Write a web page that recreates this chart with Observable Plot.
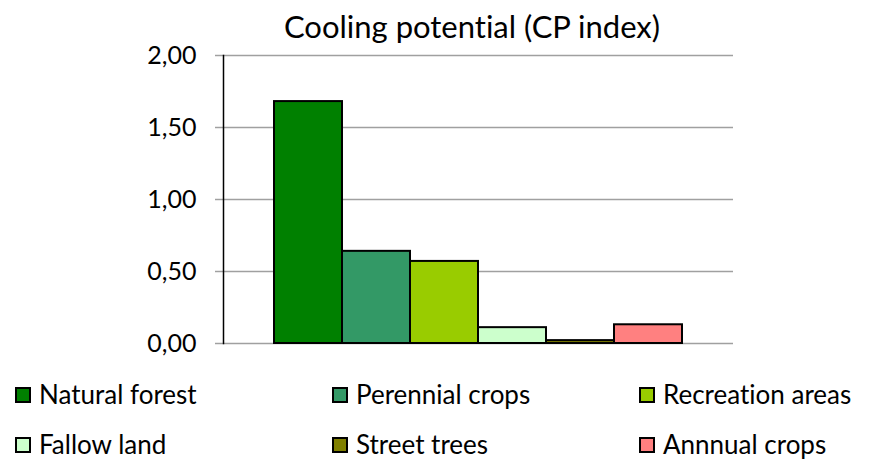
<!DOCTYPE html>
<html>
<head>
<meta charset="utf-8">
<script src="https://cdn.jsdelivr.net/npm/d3@7"></script>
<script src="https://cdn.jsdelivr.net/npm/@observablehq/plot@0.6"></script>
<style>
  html, body { margin: 0; padding: 0; background: #fff; }
  #wrap { position: relative; width: 869px; height: 461px; font-family: Lato, "Open Sans", sans-serif; color: #000; overflow: hidden; font-variant-ligatures: none; }
  #wrap svg text { font-variant-ligatures: none; }
  #title { position: absolute; left: 0; width: 944px; top: 8px; text-align: center; font-size: 31px; line-height: 36px; }
  #chart { position: absolute; left: 0; top: 0; }
  .leg { position: absolute; font-size: 26px; line-height: 26px; height: 26px; display: flex; align-items: center; white-space: nowrap; }
  .sw { width: 12px; height: 12px; border: 2px solid #000; margin-right: 8px; box-sizing: content-box; position: relative; top: 1px; }
</style>
</head>
<body>
<div id="wrap">
  <div id="title">Cooling potential (CP index)</div>
  <div id="chart"></div>
</div>
<script>
const categories = ["Natural forest", "Perennial crops", "Recreation areas", "Fallow land", "Street trees", "Annnual crops"];
const values = [1.68, 0.64, 0.57, 0.11, 0.02, 0.13];
const colors = ["#008000", "#339966", "#99CC00", "#CCFFCC", "#808000", "#FF8080"];
const yTicks = [0, 0.5, 1, 1.5, 2];

const data = categories.map((c, i) => ({category: c, value: values[i], color: colors[i]}));
const fmt = d => d.toFixed(2).replace(".", ",");

const plot = Plot.plot({
  width: 869,
  height: 361,
  marginTop: 55,
  marginBottom: 18,
  marginLeft: 223,
  marginRight: 136,
  style: {fontFamily: "Lato, 'Open Sans', sans-serif", fontSize: "25px", color: "#000", background: "transparent"},
  x: {domain: categories, padding: 0, insetLeft: 51, insetRight: 51, axis: null},
  y: {domain: [0, 2], ticks: yTicks},
  marks: [
    Plot.gridY(yTicks, {stroke: "#a0a0a0", strokeOpacity: 1, strokeWidth: 1.5}),
    Plot.axisY(yTicks, {tickSize: 8, tickPadding: 19, tickFormat: fmt, stroke: "#a0a0a0", strokeWidth: 1.5, fontSize: 25, label: null}),
    Plot.frame({anchor: "left", stroke: "#000", strokeWidth: 1.5}),
    Plot.barY(data, {x: "category", y: "value", fill: "color", stroke: "#000", strokeWidth: 2})
  ]
});
document.getElementById("chart").appendChild(plot);

// legend
const legPos = [
  [15, 394], [332, 394], [639, 394],
  [15, 444], [332, 444], [639, 444]
];
const wrap = document.getElementById("wrap");
categories.forEach((c, i) => {
  const el = document.createElement("div");
  el.className = "leg";
  el.style.left = legPos[i][0] + "px";
  el.style.top = (legPos[i][1] - 13) + "px";
  const sw = document.createElement("span");
  sw.className = "sw";
  sw.style.background = colors[i];
  const t = document.createElement("span");
  t.textContent = c;
  el.appendChild(sw);
  el.appendChild(t);
  wrap.appendChild(el);
});
</script>
</body>
</html>
